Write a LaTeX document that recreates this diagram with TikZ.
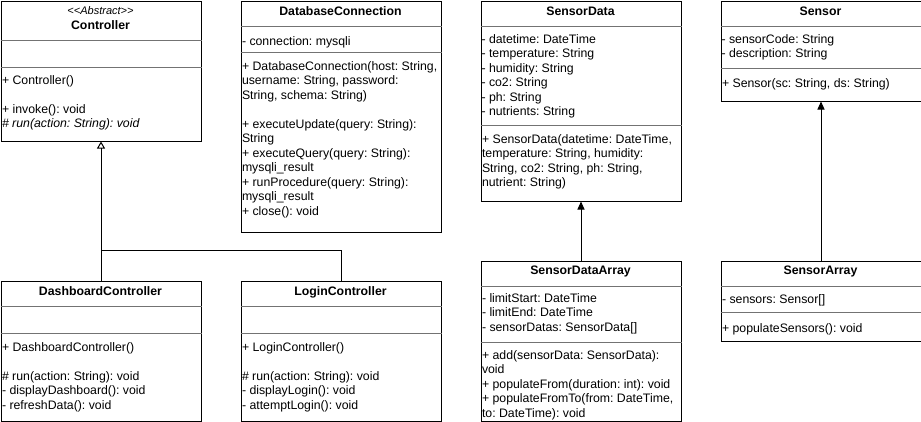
\documentclass[tikz,border=0pt]{standalone}
\usepackage{fontspec}
\setmainfont{Liberation Sans}
\usepackage{tikz}
\usetikzlibrary{arrows.meta}

\newcommand{\umlfont}{\fontsize{12.3}{14.5}\selectfont\frenchspacing}

\begin{document}
\begin{tikzpicture}[x=1pt,y=-1pt,line width=1pt,
  classbox/.style={draw,anchor=north west,inner sep=0pt},
  title/.style={anchor=base,inner sep=0pt,font=\umlfont\bfseries},
  members/.style={anchor=north west,yshift=10.15pt,inner sep=0pt,align=left,
    font=\umlfont,execute at begin node=\strut},
  sep/.style={draw=black!55},
  inherits/.style={-{Triangle[open,width=8pt,length=7pt]}},
  assoc/.style={-{Triangle[width=7pt,length=8pt]}}]
\useasboundingbox (0,0) rectangle (921,421);

% classes
\path (0.5,0.5) node (ctrl) [classbox,minimum width=200pt,minimum height=140pt] {};
\path (240.5,0.5) node (dbconn) [classbox,minimum width=200pt,minimum height=231pt] {};
\path (480.5,0.5) node (sdata) [classbox,minimum width=200pt,minimum height=200pt] {};
\path (720.5,0.5) node (sensor) [classbox,minimum width=200pt,minimum height=100pt] {};
\path (0.5,280.5) node (dash) [classbox,minimum width=200pt,minimum height=140pt] {};
\path (240.5,280.5) node (login) [classbox,minimum width=200pt,minimum height=140pt] {};
\path (480.5,260.5) node (sdarr) [classbox,minimum width=200pt,minimum height=160pt] {};
\path (720.5,260.5) node (sarr) [classbox,minimum width=200pt,minimum height=80pt] {};

\foreach \n/\y in {ctrl/40.5,ctrl/67.5,dbconn/26.5,dbconn/52.5,sdata/26.5,sdata/125.5,
  sensor/26.5,sensor/68.5,dash/306.5,dash/333.5,login/306.5,login/333.5,
  sdarr/286.5,sdarr/342.5,sarr/286.5,sarr/312.5}
  \draw[sep] (\n.west |- 0,\y) -- (\n.east |- 0,\y);

% titles
\path (100.5,14.5) node (ctrls) [anchor=base,inner sep=0pt,font=\fontsize{11}{13}\selectfont\itshape] {<{}<Abstract>{}>};
\path (100.5,29.5) node (ctrlt) [title] {Controller};
\path (340.5,15.5) node (dbconnt) [title] {DatabaseConnection};
\path (580.5,15.5) node (sdatat) [title] {SensorData};
\path (820.5,15.5) node (sensort) [title] {Sensor};
\path (100.5,295.5) node (dasht) [title] {DashboardController};
\path (340.5,295.5) node (logint) [title] {LoginController};
\path (580.5,274.5) node (sdarrt) [title] {SensorDataArray};
\path (820.5,274.5) node (sarrt) [title] {SensorArray};

% members
\path (1.5,85) node (ctrlm) [members] {+ Controller()\\[14.5pt]+ invoke(): void\\\textit{\# run(action: String): void}};

\path (241.5,44.5) node (dbconna) [members] {- connection: mysqli};
\path (241.5,71) node (dbconnm) [members] {+ DatabaseConnection(host: String,\\username: String, password:\\String, schema: String)\\[14.5pt]+ executeUpdate(query: String):\\String\\+ executeQuery(query: String):\\mysqli\_result\\+ runProcedure(query: String):\\mysqli\_result\\+ close(): void};

\path (481,44) node (sdataa) [members] {- datetime: DateTime\\- temperature: String\\- humidity: String\\- co2: String\\- ph: String\\- nutrients: String};
\path (481.5,144) node (sdatam) [members] {+ SensorData(datetime: DateTime,\\temperature: String, humidity:\\String, co2: String, ph: String,\\nutrient: String)};

\path (721,44) node (sensora) [members] {- sensorCode: String\\- description: String};
\path (721.5,87) node (sensorm) [members] {+ Sensor(sc: String, ds: String)};

\path (1.5,352) node (dashm) [members] {+ DashboardController()\\[14.5pt]\# run(action: String): void\\- displayDashboard(): void\\- refreshData(): void};
\path (241.5,352) node (loginm) [members] {+ LoginController()\\[14.5pt]\# run(action: String): void\\- displayLogin(): void\\- attemptLogin(): void};

\path (481.5,303) node (sdarra) [members] {- limitStart: DateTime\\- limitEnd: DateTime\\- sensorDatas: SensorData[]};
\path (481.5,360) node (sdarrm) [members] {+ add(sensorData: SensorData):\\void\\+ populateFrom(duration: int): void\\+ populateFromTo(from: DateTime,\\to: DateTime): void};

\path (721.5,303) node (sarra) [members] {- sensors: Sensor[]};
\path (721.5,332) node (sarrm) [members] {+ populateSensors(): void};

% relations
\coordinate (join) at (100.5,250.5);
\draw [inherits] (dash.north) to (ctrl.south);
\draw (login.north) |- (join);
\draw [assoc] (sdarr.north) to (sdata.south);
\draw [assoc] (sarr.north) to (sensor.south);

\end{tikzpicture}
\end{document}
